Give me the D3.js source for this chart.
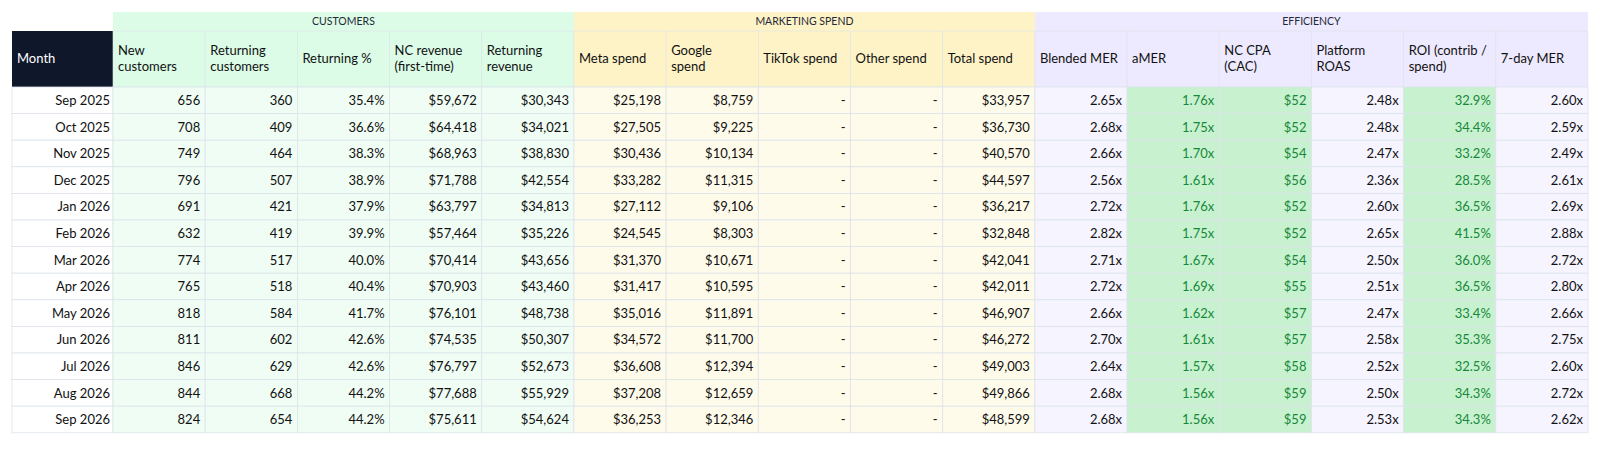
<!DOCTYPE html>
<html><head><meta charset="utf-8">
<script src="https://cdn.jsdelivr.net/npm/d3@7"></script>
<style>body{margin:0;background:#fff;font-family:Lato,"Noto Sans",sans-serif;}</style>
</head><body><svg id="c" width="1600" height="457"></svg>
<script>
const months=["Sep 2025","Oct 2025","Nov 2025","Dec 2025","Jan 2026","Feb 2026","Mar 2026","Apr 2026","May 2026","Jun 2026","Jul 2026","Aug 2026","Sep 2026"];
const newCustomers=[656,708,749,796,691,632,774,765,818,811,846,844,824];
const returningCustomers=[360,409,464,507,421,419,517,518,584,602,629,668,654];
const returningPct=[35.4,36.6,38.3,38.9,37.9,39.9,40.0,40.4,41.7,42.6,42.6,44.2,44.2];
const ncRevenue=[59672,64418,68963,71788,63797,57464,70414,70903,76101,74535,76797,77688,75611];
const returningRevenue=[30343,34021,38830,42554,34813,35226,43656,43460,48738,50307,52673,55929,54624];
const metaSpend=[25198,27505,30436,33282,27112,24545,31370,31417,35016,34572,36608,37208,36253];
const googleSpend=[8759,9225,10134,11315,9106,8303,10671,10595,11891,11700,12394,12659,12346];
const tiktokSpend=[null,null,null,null,null,null,null,null,null,null,null,null,null];
const otherSpend=[null,null,null,null,null,null,null,null,null,null,null,null,null];
const totalSpend=[33957,36730,40570,44597,36217,32848,42041,42011,46907,46272,49003,49866,48599];
const blendedMER=[2.65,2.68,2.66,2.56,2.72,2.82,2.71,2.72,2.66,2.70,2.64,2.68,2.68];
const aMER=[1.76,1.75,1.70,1.61,1.76,1.75,1.67,1.69,1.62,1.61,1.57,1.56,1.56];
const ncCPA=[52,52,54,56,52,52,54,55,57,57,58,59,59];
const platformROAS=[2.48,2.48,2.47,2.36,2.60,2.65,2.50,2.51,2.47,2.58,2.52,2.50,2.53];
const roi=[32.9,34.4,33.2,28.5,36.5,41.5,36.0,36.5,33.4,35.3,32.5,34.3,34.3];
const mer7=[2.60,2.59,2.49,2.61,2.69,2.88,2.72,2.80,2.66,2.75,2.60,2.72,2.62];
const groups=["CUSTOMERS","MARKETING SPEND","EFFICIENCY"];

const int=d3.format(","), usd=v=>"$"+d3.format(",")(v), pct=v=>d3.format(".1f")(v)+"%", xf=v=>d3.format(".2f")(v)+"x";
const dash=v=>v==null?"-":usd(v);
const cols=[
 {h:["New","customers"],d:newCustomers,f:int,g:0},
 {h:["Returning","customers"],d:returningCustomers,f:int,g:0},
 {h:["Returning %"],d:returningPct,f:pct,g:0},
 {h:["NC revenue","(first-time)"],d:ncRevenue,f:usd,g:0},
 {h:["Returning","revenue"],d:returningRevenue,f:usd,g:0},
 {h:["Meta spend"],d:metaSpend,f:usd,g:1},
 {h:["Google","spend"],d:googleSpend,f:usd,g:1},
 {h:["TikTok spend"],d:tiktokSpend,f:dash,g:1},
 {h:["Other spend"],d:otherSpend,f:dash,g:1},
 {h:["Total spend"],d:totalSpend,f:usd,g:1},
 {h:["Blended MER"],d:blendedMER,f:xf,g:2},
 {h:["aMER"],d:aMER,f:xf,g:2,hi:true},
 {h:["NC CPA","(CAC)"],d:ncCPA,f:usd,g:2,hi:true},
 {h:["Platform","ROAS"],d:platformROAS,f:xf,g:2},
 {h:["ROI (contrib /","spend)"],d:roi,f:pct,g:2,hi:true},
 {h:["7-day MER"],d:mer7,f:xf,g:2}
];
const gHead=["#dcfce7","#fef3c7","#ede9fe"], gBody=["#f0fdf4","#fffbeb","#f6f4ff"];
const svg=d3.select("#c");
const x0=12,mw=101,x1=113,x2=1588,yG=12,yH=31,yB=87,rh=26.6;
const x=d3.scaleBand().domain(d3.range(cols.length)).range([x1,x2]);
const y=d3.scaleBand().domain(months).range([yB,yB+rh*months.length]);
const line="#dde3ea";
// group headers
groups.forEach((g,i)=>{
 const idx=cols.map((c,j)=>c.g===i?j:-1).filter(j=>j>=0);
 const a=x(idx[0]),b=x(idx[idx.length-1])+x.bandwidth();
 svg.append("rect").attr("x",a).attr("y",yG).attr("width",b-a).attr("height",yH-yG).attr("fill",gHead[i]);
 svg.append("text").attr("x",(a+b)/2).attr("y",24.5).attr("text-anchor","middle").attr("font-size",10.5).attr("fill","#1f2937").text(g);
});
// month header
svg.append("rect").attr("x",x0).attr("y",yH).attr("width",mw).attr("height",yB-yH).attr("fill","#0f172a");
svg.append("text").attr("x",x0+5).attr("y",63).attr("font-size",13).attr("fill","#fff").text("Month");
// col headers
cols.forEach((c,j)=>{
 svg.append("rect").attr("x",x(j)).attr("y",yH).attr("width",x.bandwidth()).attr("height",yB-yH).attr("fill",gHead[c.g]).attr("stroke",line).attr("stroke-width",0.6);
 const t=svg.append("text").attr("font-size",13).attr("fill","#111");
 const n=c.h.length, base=n===1?63:55;
 c.h.forEach((s,k)=>t.append("tspan").attr("x",x(j)+5).attr("y",base+k*15.5).text(s));
});
// body
months.forEach((m,i)=>{
 const yy=y(m);
 svg.append("rect").attr("x",x0).attr("y",yy).attr("width",mw).attr("height",y.bandwidth()).attr("fill","#fff").attr("stroke",line).attr("stroke-width",0.8);
 svg.append("text").attr("x",x1-3).attr("y",yy+18).attr("text-anchor","end").attr("font-size",13).attr("fill","#111").text(m);
 cols.forEach((c,j)=>{
  svg.append("rect").attr("x",x(j)).attr("y",yy).attr("width",x.bandwidth()).attr("height",y.bandwidth())
   .attr("fill",c.hi?"#c8f2cf":gBody[c.g]).attr("stroke",line).attr("stroke-width",0.8);
  svg.append("text").attr("x",x(j)+x.bandwidth()-5).attr("y",yy+18).attr("text-anchor","end").attr("font-size",13)
   .attr("fill",c.hi?"#16883a":"#111").text(c.f(c.d[i]));
 });
});
</script></body></html>
